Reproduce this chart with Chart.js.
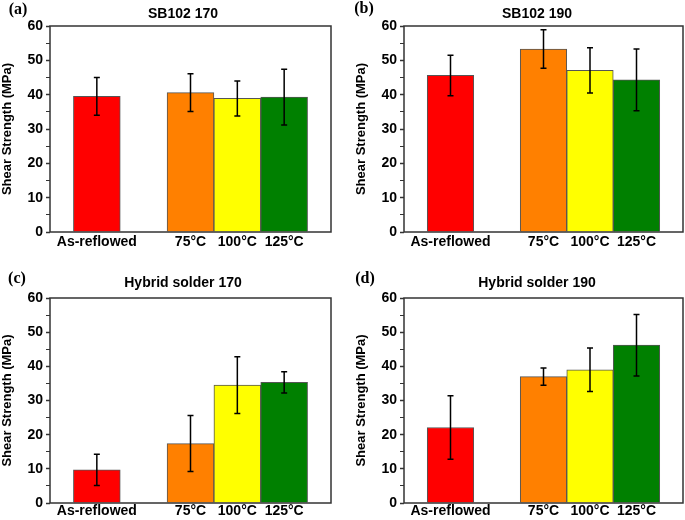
<!DOCTYPE html>
<html lang="en">
<head>
<meta charset="UTF-8">
<title>Shear Strength</title>
<script src="https://cdn.jsdelivr.net/npm/chart.js"></script>
<style>
    body { margin: 0; background: #fff; }
    .wrap { position: relative; width: 685px; height: 520px; font-family: 'Liberation Sans', Arial, sans-serif; }
    .wrap canvas { position: absolute; }
    .title { position: absolute; font-weight: bold; font-size: 14px; transform: translate(-50%, -50%); white-space: nowrap; }
    .tag { position: absolute; font-family: 'Liberation Serif', 'Times New Roman', serif; font-weight: bold; font-size: 16px; transform: translate(-50%, -50%); }
</style>
</head>
<body>
<div class="wrap">
    <canvas id="chartA" width="342" height="260" style="left:0;top:0"></canvas>
    <canvas id="chartB" width="331" height="260" style="left:354px;top:0"></canvas>
    <canvas id="chartC" width="342" height="260" style="left:0;top:260px"></canvas>
    <canvas id="chartD" width="331" height="260" style="left:354px;top:260px"></canvas>

    <div class="tag" style="left:18px;top:9px">(a)</div>
    <div class="tag" style="left:364px;top:8px">(b)</div>
    <div class="tag" style="left:17px;top:278px">(c)</div>
    <div class="tag" style="left:365px;top:278px">(d)</div>

    <div class="title" style="left:183px;top:13px">SB102 170</div>
    <div class="title" style="left:537px;top:13px">SB102 190</div>
    <div class="title" style="left:183px;top:282px">Hybrid solder 170</div>
    <div class="title" style="left:537px;top:282px">Hybrid solder 190</div>
</div>

<script>
// blank slots keep the gap between as-reflowed and the aged samples
const categories = ['', 'As-reflowed', '', '75°C', '100°C', '125°C', ''];
const barColors = [null, '#ff0000', null, '#ff8000', '#ffff00', '#008000', null];
const yTicks = [0, 10, 20, 30, 40, 50, 60];

const sb170Values = [null, 39.5, null, 40.6, 38.9, 39.3, null];
const sb170Errors = [null, 5.5, null, 5.5, 5.1, 8.1, null];
const sb190Values = [null, 45.6, null, 53.3, 47.1, 44.3, null];
const sb190Errors = [null, 5.9, null, 5.6, 6.6, 9.0, null];
const hy170Values = [null, 9.7, null, 17.4, 34.5, 35.3, null];
const hy170Errors = [null, 4.6, null, 8.2, 8.3, 3.1, null];
const hy190Values = [null, 22.1, null, 37.0, 39.0, 46.2, null];
const hy190Errors = [null, 9.3, null, 2.5, 6.4, 9.0, null];

// error bars with small caps
const errorBars = {
    id: 'errorBars',
    afterDatasetsDraw(chart, args, opts) {
        const ctx = chart.ctx;
        const y = chart.scales.y;
        const vals = chart.data.datasets[0].data;
        const meta = chart.getDatasetMeta(0);
        ctx.save();
        ctx.strokeStyle = '#000';
        ctx.lineWidth = 1.5;
        meta.data.forEach((bar, i) => {
            if (vals[i] == null) return;
            const top = y.getPixelForValue(vals[i] + opts.errors[i]);
            const bot = y.getPixelForValue(vals[i] - opts.errors[i]);
            ctx.beginPath();
            ctx.moveTo(bar.x, top); ctx.lineTo(bar.x, bot);
            ctx.moveTo(bar.x - 3, top); ctx.lineTo(bar.x + 3, top);
            ctx.moveTo(bar.x - 3, bot); ctx.lineTo(bar.x + 3, bot);
            ctx.stroke();
        });
        ctx.restore();
    }
};

// box around the plot area
const frame = {
    id: 'frame',
    afterDatasetsDraw(chart) {
        const {ctx, chartArea: a} = chart;
        ctx.save();
        ctx.strokeStyle = '#333';
        ctx.lineWidth = 1.5;
        ctx.strokeRect(a.left, a.top, a.right - a.left, a.bottom - a.top);
        ctx.restore();
    }
};

function makeChart(id, values, errors, pad, xHeight, xPad) {
    return new Chart(document.getElementById(id), {
        type: 'bar',
        data: {
            labels: categories,
            datasets: [{
                data: values,
                backgroundColor: barColors,
                borderColor: '#555',
                borderWidth: 1,
                barPercentage: 1,
                categoryPercentage: 1
            }]
        },
        options: {
            responsive: false,
            animation: false,
            devicePixelRatio: 1,
            layout: { padding: pad },
            plugins: {
                legend: { display: false },
                tooltip: { enabled: false },
                errorBars: { errors: errors }
            },
            scales: {
                x: {
                    offset: false,
                    afterFit(s) { s.height = xHeight; },
                    border: { display: false },
                    grid: { display: false, drawTicks: false },
                    ticks: {
                        autoSkip: false, maxRotation: 0, padding: xPad, color: '#000',
                        font: { family: "'Liberation Sans', Arial, sans-serif", size: 14, weight: 'bold' }
                    }
                },
                y: {
                    min: yTicks[0],
                    max: yTicks[yTicks.length - 1],
                    afterFit(s) { s.width = 50; },
                    border: { display: false },
                    grid: {
                        drawOnChartArea: false, tickLength: 4, color: '#333',
                        tickWidth: c => (c.tick && c.tick.value % 10 === 0) ? 1.5 : 1
                    },
                    ticks: {
                        stepSize: 5, autoSkip: false, padding: 3, color: '#000',
                        font: { family: "'Liberation Sans', Arial, sans-serif", size: 14, weight: 'bold' },
                        callback: v => yTicks.includes(v) ? v : ''
                    },
                    title: {
                        display: true, text: 'Shear Strength (MPa)', color: '#000', padding: 0,
                        font: { family: "'Liberation Sans', Arial, sans-serif", size: 13, weight: 'bold' }
                    }
                }
            }
        },
        plugins: [errorBars, frame]
    });
}

makeChart('chartA', sb170Values, sb170Errors, { top: 26, right: 11, left: 0, bottom: 0 }, 28, 2);
makeChart('chartB', sb190Values, sb190Errors, { top: 26, right: 2, left: 0, bottom: 0 }, 28, 2);
makeChart('chartC', hy170Values, hy170Errors, { top: 38, right: 11, left: 0, bottom: 0 }, 17, 0);
makeChart('chartD', hy190Values, hy190Errors, { top: 38, right: 2, left: 0, bottom: 0 }, 17, 0);
</script>
</body>
</html>
